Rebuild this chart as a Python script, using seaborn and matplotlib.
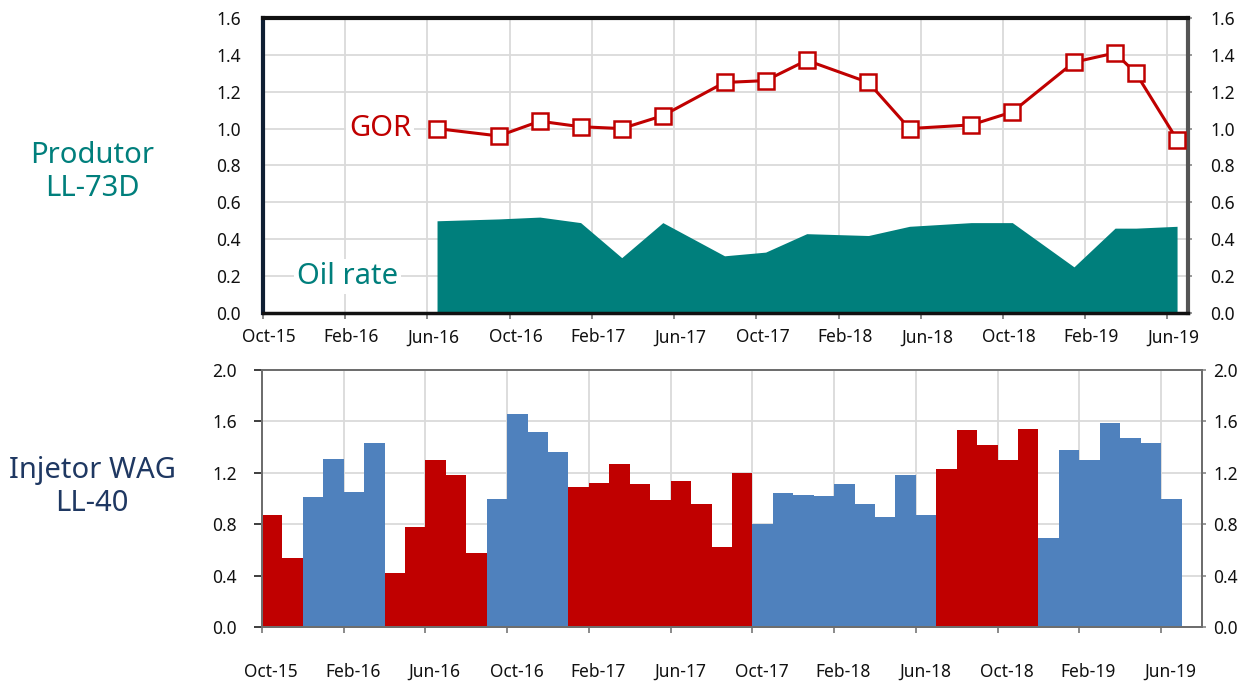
import pandas as pd
import matplotlib
matplotlib.use("Agg")
import matplotlib.pyplot as plt
import seaborn as sns

# producer well LL-73D (monthly points, mid-month)
gor_dates = ["2016-06-15", "2016-09-15", "2016-11-15", "2017-01-15", "2017-03-15",
             "2017-05-15", "2017-08-15", "2017-10-15", "2017-12-15", "2018-03-15",
             "2018-05-15", "2018-08-15", "2018-10-15", "2019-01-15", "2019-03-15",
             "2019-04-15", "2019-06-15"]
gor = [1.00, 0.96, 1.04, 1.01, 1.00, 1.07, 1.25, 1.26, 1.37, 1.25,
       1.00, 1.02, 1.09, 1.36, 1.41, 1.30, 0.94]
oil_rate = [0.50, 0.51, 0.52, 0.49, 0.30, 0.49, 0.31, 0.33, 0.43, 0.42,
            0.47, 0.49, 0.49, 0.25, 0.46, 0.46, 0.47]

# WAG injector LL-40, one bar per month from Oct-15 to Jun-19
inj_months = pd.date_range("2015-10-01", "2019-06-01", freq="MS")
inj_values = [0.87, 0.54, 1.01, 1.31, 1.05, 1.43, 0.42, 0.78, 1.30, 1.18,
              0.58, 1.00, 1.66, 1.52, 1.36, 1.09, 1.12, 1.27, 1.11, 0.99,
              1.14, 0.96, 0.62, 1.20, 0.80, 1.04, 1.03, 1.02, 1.11, 0.96,
              0.86, 1.18, 0.87, 1.23, 1.53, 1.42, 1.30, 1.54, 0.69, 1.38,
              1.30, 1.59, 1.47, 1.43, 1.00]
inj_phase = (["Gás"] * 2 + ["Água"] * 4 + ["Gás"] * 5 + ["Água"] * 4 + ["Gás"] * 9
             + ["Água"] * 9 + ["Gás"] * 5 + ["Água"] * 7)

tick_labels = ["Oct-15", "Feb-16", "Jun-16", "Oct-16", "Feb-17", "Jun-17",
               "Oct-17", "Feb-18", "Jun-18", "Oct-18", "Feb-19", "Jun-19"]

RED = "#C00000"
BLUE = "#4F81BD"
TEAL = "#007F7C"
NAVY = "#1F3862"
GRID = "#DADADA"


def month_index(dates):
    d = pd.to_datetime(pd.Series(dates))
    return (d.dt.year * 12 + d.dt.month - (2015 * 12 + 10)
            + (d.dt.day - 1) / d.dt.days_in_month).to_numpy()


gor_x = month_index(gor_dates)
bar_x = month_index(inj_months) + 0.5
tick_pos = list(range(0, 45, 4))

sns.set_theme(style="white")
plt.rcParams["font.family"] = ["Noto Sans", "DejaVu Sans"]

fig = plt.figure(figsize=(12.44, 6.82), dpi=100)
ax1 = fig.add_axes([0.2114, 0.5411, 0.7436, 0.4326])
ax2 = fig.add_axes([0.2106, 0.0806, 0.7556, 0.3768])

# top panel: oil rate area + GOR line
ax1.fill_between(gor_x, oil_rate, 0, color=TEAL, linewidth=0, zorder=2)
sns.lineplot(x=gor_x, y=gor, ax=ax1, color=RED, linewidth=2.2, marker="s",
             markersize=11, markerfacecolor="white", markeredgecolor=RED,
             markeredgewidth=1.8, zorder=3)
ax1.set_xlim(0, 45)
ax1.set_ylim(0, 1.6)
ax1.set_yticks([i * 0.2 for i in range(9)])
ax1.set_yticklabels([f"{i * 0.2:.1f}" for i in range(9)])

ax1.text(5.7, 1.0, "GOR", color=RED, fontsize=21, ha="center", va="center",
         bbox=dict(facecolor="white", edgecolor="none", pad=2), zorder=4)
ax1.text(4.1, 0.2, "Oil rate", color=TEAL, fontsize=21, ha="center", va="center",
         bbox=dict(facecolor="white", edgecolor="none", pad=2), zorder=4)

# bottom panel: monthly injection bars
sns.barplot(x=bar_x, y=inj_values, hue=inj_phase, ax=ax2, native_scale=True,
            palette={"Gás": RED, "Água": BLUE}, width=1, dodge=False,
            saturation=1, errorbar=None, legend=False, linewidth=0, zorder=2)
ax2.set_xlim(0, 46)
ax2.set_ylim(0, 2.0)
ax2.set_yticks([i * 0.4 for i in range(6)])
ax2.set_yticklabels([f"{i * 0.4:.1f}" for i in range(6)])

for ax, off, xpad in [(ax1, 0.3, 11), (ax2, 0.45, 26)]:
    ax.set_xlabel("")
    ax.set_ylabel("")
    ax.set_axisbelow(True)
    ax.set_xticks(tick_pos)
    ax.set_xticklabels([])
    ax.set_xticks([p + off for p in tick_pos], minor=True)
    ax.set_xticklabels(tick_labels, minor=True)
    ax.tick_params(axis="x", which="major", bottom=True, length=4, width=1.2,
                   color="#777777")
    ax.tick_params(axis="x", which="minor", bottom=True, length=0, pad=xpad,
                   labelsize=12.5, labelcolor="#111111")
    ax.grid(True, axis="both", which="major", color=GRID, linewidth=1.3)
    ax.grid(False, which="minor")

# top panel: labels both sides, same padding
ax1.tick_params(axis="y", left=False, right=True, labelleft=True,
                labelright=True, length=3, width=1.2, color="#888888",
                labelsize=12.5, labelcolor="#111111", pad=13)

# bottom panel: right labels sit closer to the frame, use a twin axis
ax2.tick_params(axis="y", left=False, right=False, labelleft=True,
                labelright=False, labelsize=12.5, labelcolor="#111111", pad=12)
ax2r = ax2.twinx()
ax2r.set_ylim(ax2.get_ylim())
ax2r.set_yticks(ax2.get_yticks())
ax2r.set_yticklabels([f"{i * 0.4:.1f}" for i in range(6)])
ax2r.tick_params(axis="y", right=True, length=3, width=1.2, color="#888888",
                 labelsize=12.5, labelcolor="#111111", pad=5)
ax2r.grid(False)

# spines
for side, c, w in [("left", "#0F1E33", 3), ("bottom", "#111111", 2.5),
                   ("top", "#111111", 3), ("right", "#555555", 3)]:
    ax1.spines[side].set_visible(True)
    ax1.spines[side].set_color(c)
    ax1.spines[side].set_linewidth(w)
for a in (ax2, ax2r):
    for side in ["left", "bottom", "top", "right"]:
        a.spines[side].set_visible(True)
        a.spines[side].set_color("#6E6E6E")
        a.spines[side].set_linewidth(1.4)

fig.text(0.074, 0.748, "Produtor\nLL-73D", color=TEAL, fontsize=21,
         ha="center", va="center", linespacing=1.15)
fig.text(0.074, 0.286, "Injetor WAG\nLL-40", color=NAVY, fontsize=21,
         ha="center", va="center", linespacing=1.15)

fig.savefig("out.png", dpi=100, facecolor="white")
